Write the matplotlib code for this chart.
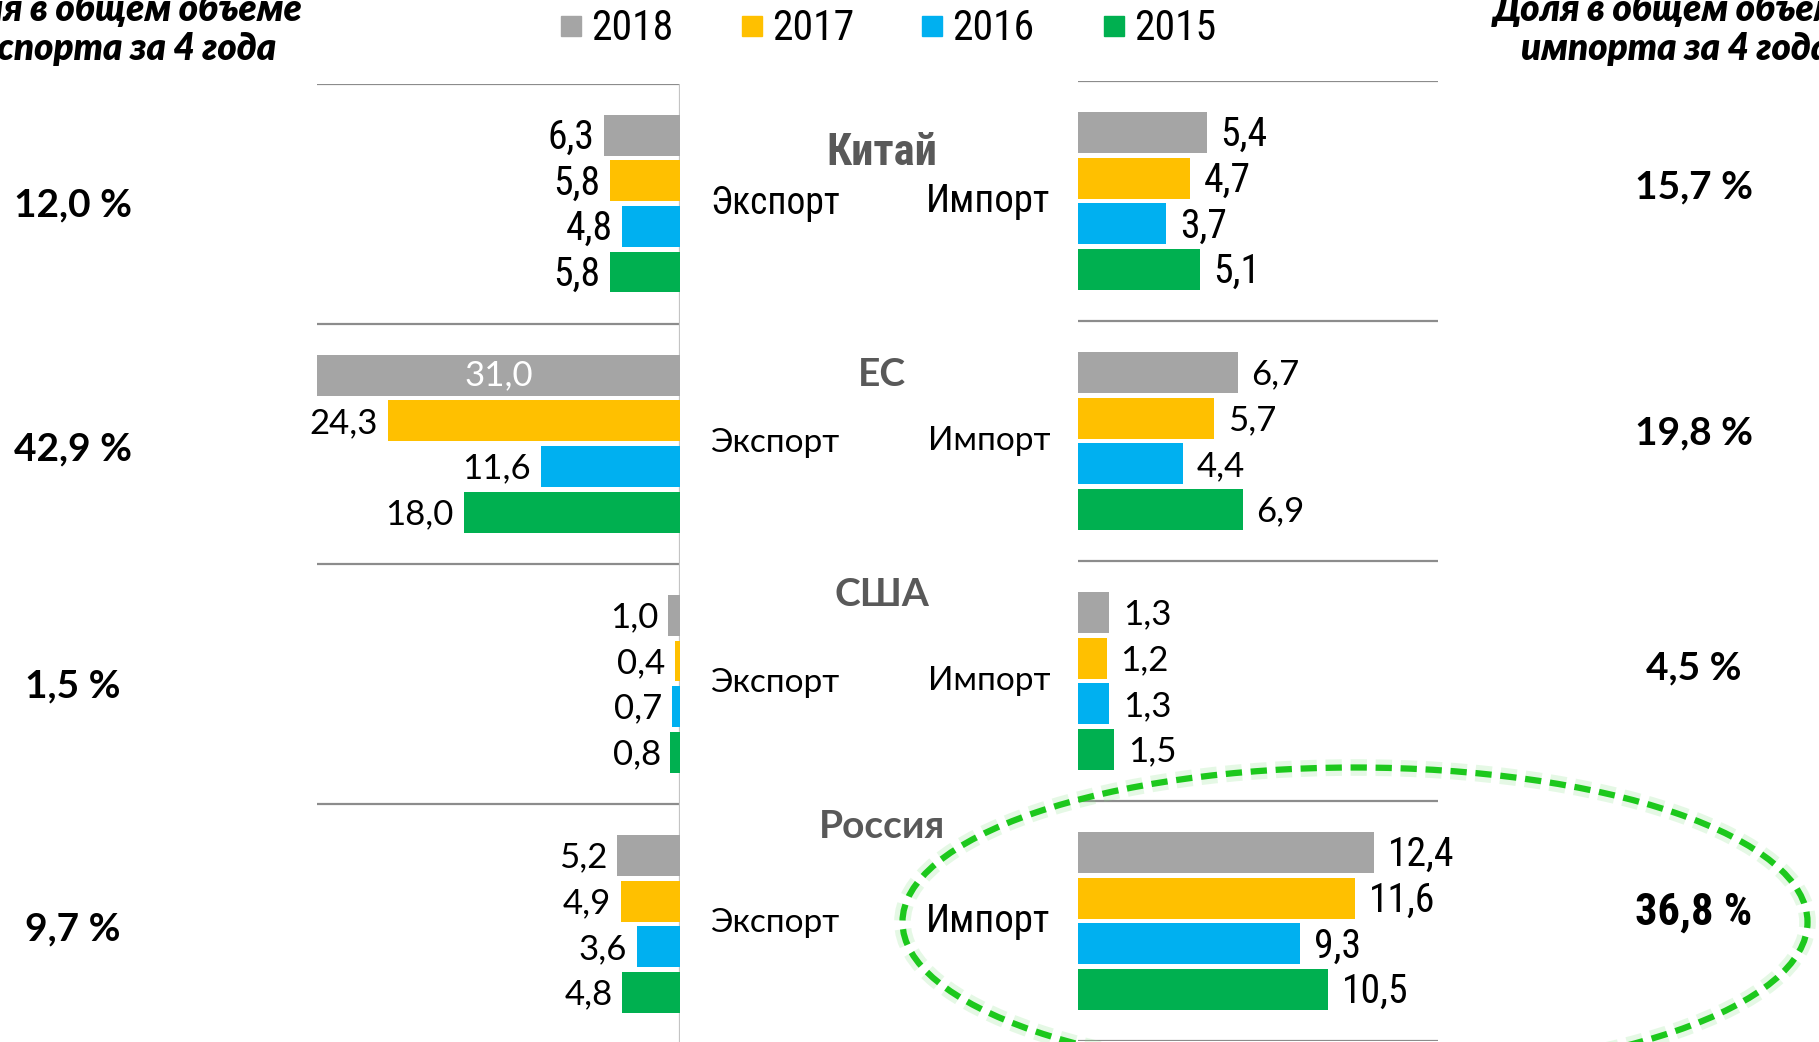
import numpy as np
import matplotlib
matplotlib.use("Agg")
import matplotlib.pyplot as plt
from matplotlib import font_manager as fm
from matplotlib.patches import Ellipse, Rectangle

# данные: млрд долл., порядок годов 2018, 2017, 2016, 2015
countries = ['Китай', 'ЕС', 'США', 'Россия']
years = ['2018', '2017', '2016', '2015']
colors = ['#A5A5A5', '#FFC000', '#00B0F0', '#00B050']

export_vals = [
    [6.3, 5.8, 4.8, 5.8],
    [31.0, 24.3, 11.6, 18.0],
    [1.0, 0.4, 0.7, 0.8],
    [5.2, 4.9, 3.6, 4.8],
]
import_vals = [
    [5.4, 4.7, 3.7, 5.1],
    [6.7, 5.7, 4.4, 6.9],
    [1.3, 1.2, 1.3, 1.5],
    [12.4, 11.6, 9.3, 10.5],
]
export_share = [12.0, 42.9, 1.5, 9.7]
import_share = [15.7, 19.8, 4.5, 36.8]

# узкий шрифт - берём то, что есть в системе
names = {f.name for f in fm.fontManager.ttflist}
narrow_name = 'DejaVu Sans'
for n in ['Liberation Sans Narrow', 'Arial Narrow', 'Roboto Condensed',
          'Open Sans Condensed', 'DejaVu Sans Condensed']:
    if n in names:
        narrow_name = n
        break
NARROW = dict(family=[narrow_name, 'DejaVu Sans'], fontstretch='condensed')
WIDE = dict(family=['Lato', 'DejaVu Sans'])

W, H = 1819, 1042
fig = plt.figure(figsize=(W / 100, H / 100), dpi=100)


def fx(x):
    return x / W


def fy(y):
    return 1 - y / H


def fmt(v):
    return f"{v:.1f}".replace('.', ',')


# позиции столбиков внутри блока страны
slot = 0.19
bar_h = 0.17
offs = 0.215 + slot * np.arange(4)

# левая панель - экспорт (растёт влево)
axL = fig.add_axes([fx(317), fy(1044), (680 - 317) / W, 960.5 / H])
xmaxL = 30.2
axL.set_xlim(xmaxL, 0)
axL.set_ylim(4, 0)
# правая панель - импорт
axR = fig.add_axes([fx(1078), fy(1041), (1438 - 1078) / W, 960 / H])
xmaxR = 15.1
axR.set_xlim(0, xmaxR)
axR.set_ylim(4, 0)

narrow_exp = [True, False, False, False]
narrow_imp = [True, False, False, True]

for ax in (axL, axR):
    ax.set_xticks([])
    ax.set_yticks([])
    for s in ax.spines.values():
        s.set_visible(False)
    for g in range(5):
        ax.axhline(g, color='#8c8c8c', lw=1.6, zorder=1)
axL.axvline(0, color='#c4c4c4', lw=1.6, zorder=1)

for g in range(4):
    for k in range(4):
        y = g + offs[k]
        # экспорт
        v = export_vals[g][k]
        axL.barh(y, v, height=bar_h, color=colors[k], zorder=2)
        font, size = (NARROW, 28.5) if narrow_exp[g] else (WIDE, 25)
        if v > xmaxL:
            axL.text(xmaxL / 2, y, fmt(v), ha='center', va='center',
                     color='white', fontsize=size, zorder=3, **WIDE)
        else:
            axL.annotate(fmt(v), (v, y), xytext=(-7, -1.5), textcoords='offset points',
                         ha='right', va='center', fontsize=size, **font)
        # импорт
        v = import_vals[g][k]
        axR.barh(y, v, height=bar_h, color=colors[k], zorder=2)
        font, size = (NARROW, 28.5) if narrow_imp[g] else (WIDE, 25)
        axR.annotate(fmt(v), (v, y), xytext=(10, -1.5), textcoords='offset points',
                     ha='left', va='center', fontsize=size, **font)

# подписи в центре
name_y = [153, 374, 594, 826]
name_font = [(NARROW, 32), (WIDE, 28), (WIDE, 28), (WIDE, 28)]
exp_y = [204, 443, 683, 923]
imp_y = [202, 441, 681, 921]
for g in range(4):
    font, size = name_font[g]
    fig.text(fx(882), fy(name_y[g]), countries[g], ha='center', va='center',
             fontsize=size, weight='bold', color='#595959', **font)
    font, size = (NARROW, 27) if narrow_exp[g] else (WIDE, 24)
    fig.text(fx(710), fy(exp_y[g]), 'Экспорт', ha='left', va='center',
             fontsize=size, **font)
    font, size = (NARROW, 28) if narrow_imp[g] else (WIDE, 24)
    fig.text(fx(1050), fy(imp_y[g]), 'Импорт', ha='right', va='center',
             fontsize=size, **font)

# доли за 4 года
shareL_y = [205, 449, 686, 929]
shareR_y = [187, 433, 668, 913]
for g in range(4):
    fig.text(fx(73), fy(shareL_y[g]), fmt(export_share[g]) + ' %', ha='center',
             va='center', fontsize=28, weight='bold', **WIDE)
    font, size = (NARROW, 32) if g == 3 else (WIDE, 28)
    fig.text(fx(1694), fy(shareR_y[g]), fmt(import_share[g]) + ' %', ha='center',
             va='center', fontsize=size, weight='bold', **font)

# заголовки колонок
for cx, word in [(119, 'экспорта'), (1676, 'импорта')]:
    for ty, line in [(9, 'Доля в общем объеме'), (48, word + ' за 4 года')]:
        fig.text(fx(cx), fy(ty), line, ha='center', va='center', fontsize=26.5,
                 weight='heavy', style='italic', **WIDE)

# легенда
leg_x = [561, 742, 922, 1104]
for x0, c, yr in zip(leg_x, colors, years):
    fig.add_artist(Rectangle((fx(x0), fy(36)), 20 / W, 20 / H, color=c,
                             transform=fig.transFigure))
    fig.text(fx(x0 + 30), fy(28), yr, ha='left', va='center', fontsize=30, **NARROW)

# выделение России
lw = 4.5
for w, a, c in [(12, 0.2, '#7fe07f'), (lw, 1.0, '#1cc81c')]:
    e = Ellipse((fx(1355), fy(922)), 905 / W, 309 / H, transform=fig.transFigure,
                fill=False, edgecolor=c, lw=w, alpha=a,
                linestyle=(0, (2.6 * lw / w, 1.4 * lw / w)), zorder=10)
    fig.add_artist(e)

plt.savefig('out.png', dpi=100)
